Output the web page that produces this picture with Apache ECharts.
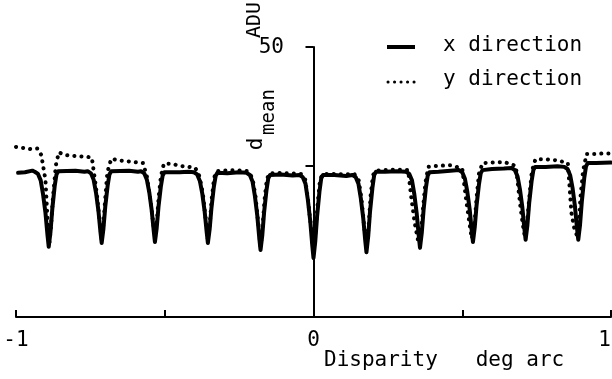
<!DOCTYPE html>
<html>
<head>
<meta charset="utf-8">
<script src="https://cdn.jsdelivr.net/npm/echarts@6/dist/echarts.min.js"></script>
<style>
  html, body { margin: 0; padding: 0; background: #fff; }
  #chart { width: 612px; height: 379px; }
</style>
</head>
<body>
<div id="chart"></div>
<script>
// Mean response (ADU) against disparity (deg arc), x and y scan directions.
const xTickValues = [-1, -0.5, 0.5, 1];
const xLabelValues = [-1, 0, 1];
const yTopLabel = '50';
const yMax = 50;
const dMean = 28.1;

// [disparity, ADU] samples, x direction
const xDirection = [
  [-0.993, 26.7], [-0.970, 26.8], [-0.945, 27.1],
  [-0.937, 26.9], [-0.926, 26.5], [-0.917, 25.3], [-0.909, 22.7], [-0.901, 19.3], [-0.894, 15.1],
  [-0.890, 13.0], [-0.884, 15.8], [-0.878, 20.0], [-0.870, 24.2], [-0.864, 26.4], [-0.858, 27.0],
  [-0.800, 27.1], [-0.770, 26.9],
  [-0.759, 27.0], [-0.748, 26.6], [-0.739, 25.4], [-0.731, 23.0], [-0.723, 19.7], [-0.716, 15.7],
  [-0.712, 13.7], [-0.706, 16.4], [-0.700, 20.4], [-0.692, 24.3], [-0.686, 26.4], [-0.680, 27.0],
  [-0.620, 27.1], [-0.590, 26.9],
  [-0.580, 27.0], [-0.569, 26.6], [-0.560, 25.4], [-0.552, 23.1], [-0.544, 19.8], [-0.537, 15.9],
  [-0.533, 13.9], [-0.527, 16.5], [-0.521, 20.4], [-0.513, 24.2], [-0.507, 26.2], [-0.501, 26.8],
  [-0.450, 26.8], [-0.420, 26.9],
  [-0.402, 26.8], [-0.391, 26.4], [-0.382, 25.2], [-0.374, 22.9], [-0.366, 19.6], [-0.359, 15.7],
  [-0.355, 13.7], [-0.349, 16.3], [-0.343, 20.2], [-0.335, 24.1], [-0.329, 26.1], [-0.323, 26.7],
  [-0.290, 26.6], [-0.250, 26.8],
  [-0.225, 26.7], [-0.214, 26.3], [-0.205, 25.1], [-0.197, 22.4], [-0.189, 18.8], [-0.182, 14.5],
  [-0.178, 12.4], [-0.172, 15.2], [-0.166, 19.4], [-0.158, 23.5], [-0.152, 25.7], [-0.146, 26.3],
  [-0.110, 26.4], [-0.070, 26.2],
  [-0.047, 26.3], [-0.036, 25.9], [-0.027, 24.7], [-0.019, 21.7], [-0.011, 17.8], [-0.004, 13.2],
  [0.000, 10.9], [0.006, 14.0], [0.012, 18.6], [0.020, 23.2], [0.026, 25.7], [0.032, 26.3],
  [0.070, 26.3], [0.110, 26.1],
  [0.131, 26.3], [0.142, 25.9], [0.151, 24.7], [0.159, 22.0], [0.167, 18.4], [0.174, 14.1],
  [0.178, 12.0], [0.184, 15.0], [0.190, 19.5], [0.198, 23.9], [0.204, 26.3], [0.210, 26.9],
  [0.240, 26.9], [0.280, 27.0],
  [0.311, 26.9], [0.322, 26.5], [0.331, 25.3], [0.339, 22.7], [0.347, 19.1], [0.354, 14.9],
  [0.358, 12.8], [0.364, 15.6], [0.370, 19.8], [0.378, 24.0], [0.384, 26.2], [0.390, 26.8],
  [0.420, 26.9], [0.460, 27.1],
  [0.489, 27.2], [0.500, 26.8], [0.509, 25.6], [0.517, 23.2], [0.525, 19.9], [0.532, 15.9],
  [0.536, 13.9], [0.542, 16.6], [0.548, 20.6], [0.556, 24.5], [0.562, 26.6], [0.568, 27.2],
  [0.600, 27.4], [0.640, 27.5],
  [0.666, 27.6], [0.677, 27.2], [0.686, 26.0], [0.694, 23.6], [0.702, 20.3], [0.709, 16.3],
  [0.713, 14.3], [0.719, 17.0], [0.725, 21.1], [0.733, 25.1], [0.739, 27.2], [0.745, 27.8],
  [0.780, 27.8], [0.820, 27.9],
  [0.843, 27.8], [0.854, 27.4], [0.863, 26.2], [0.871, 23.8], [0.879, 20.4], [0.886, 16.3],
  [0.890, 14.3], [0.896, 17.1], [0.902, 21.4], [0.910, 25.7], [0.916, 27.9], [0.922, 28.5],
  [0.950, 28.5], [1.000, 28.6]
];

// [disparity, ADU] samples, y direction
const yDirection = [
  [-1.000, 31.5], [-0.975, 31.3], [-0.950, 31.1], [-0.928, 31.2],
  [-0.915, 30.0], [-0.901, 25.4], [-0.893, 17.0], [-0.888, 13.5], [-0.882, 17.0], [-0.876, 22.0], [-0.866, 28.1], [-0.856, 30.5],
  [-0.835, 30.0], [-0.800, 29.8], [-0.765, 29.7],
  [-0.745, 29.5], [-0.729, 23.1], [-0.719, 18.0], [-0.712, 14.4], [-0.706, 17.4], [-0.700, 22.0], [-0.693, 26.8], [-0.680, 29.3],
  [-0.655, 29.0], [-0.620, 28.8], [-0.590, 28.6],
  [-0.573, 28.5], [-0.560, 26.0], [-0.545, 20.4], [-0.539, 17.5], [-0.533, 14.6], [-0.527, 17.5], [-0.520, 22.5], [-0.513, 26.0], [-0.503, 28.4],
  [-0.480, 28.4], [-0.450, 28.0], [-0.420, 27.8],
  [-0.397, 27.6], [-0.383, 26.0], [-0.372, 22.9], [-0.362, 18.0], [-0.355, 14.4], [-0.349, 17.0], [-0.342, 22.0], [-0.334, 25.8], [-0.325, 27.0],
  [-0.300, 27.1], [-0.260, 27.2], [-0.220, 27.0],
  [-0.205, 25.7], [-0.195, 22.4], [-0.185, 17.0], [-0.178, 13.0], [-0.172, 16.0], [-0.165, 21.5], [-0.157, 25.5], [-0.148, 26.6],
  [-0.120, 26.7], [-0.080, 26.6], [-0.042, 26.5],
  [-0.028, 25.5], [-0.018, 21.5], [-0.008, 16.5], [0.000, 12.0], [0.007, 16.0], [0.014, 21.0], [0.022, 25.5], [0.032, 26.5],
  [0.060, 26.5], [0.100, 26.4], [0.137, 26.5],
  [0.152, 25.3], [0.161, 22.0], [0.170, 17.0], [0.178, 12.8], [0.185, 16.5], [0.192, 22.5], [0.200, 26.3], [0.210, 27.1],
  [0.240, 27.2], [0.280, 27.3],
  [0.318, 27.2], [0.329, 22.0], [0.340, 17.5], [0.352, 14.0], [0.360, 15.0], [0.368, 20.0], [0.376, 24.8], [0.386, 27.8],
  [0.420, 28.0], [0.460, 28.1],
  [0.500, 27.5], [0.514, 21.3], [0.524, 17.5], [0.532, 14.5], [0.540, 16.5], [0.548, 22.0], [0.556, 26.5], [0.568, 28.5],
  [0.600, 28.6], [0.640, 28.7],
  [0.680, 28.0], [0.696, 20.2], [0.704, 17.0], [0.710, 15.0], [0.718, 17.5], [0.726, 22.5], [0.734, 27.0], [0.746, 29.2],
  [0.780, 29.2], [0.820, 29.0],
  [0.855, 28.5], [0.867, 19.3], [0.878, 16.0], [0.887, 15.0], [0.893, 18.0], [0.897, 22.0], [0.906, 27.0], [0.918, 30.2],
  [0.950, 30.2], [0.975, 30.3], [1.000, 30.3]
];

const FONT = '"DejaVu Sans Mono", "Liberation Mono", monospace';
const INK = '#000';

const chart = echarts.init(document.getElementById('chart'), null, { renderer: 'canvas' });

const yAxisBase = {
  type: 'value',
  min: 0,
  max: yMax,
  splitLine: { show: false },
  axisLabel: { show: false },
  axisLine: { show: true, onZero: true, onZeroAxisIndex: 0, lineStyle: { color: INK, width: 2 } }
};

chart.setOption({
  animation: false,
  backgroundColor: '#fff',
  grid: { left: 16, right: 1, top: 47, bottom: 62, containLabel: false, outerBoundsMode: 'none' },
  xAxis: {
    type: 'value',
    min: -1,
    max: 1,
    splitLine: { show: false },
    axisLine: { onZero: false, lineStyle: { color: INK, width: 2 } },
    axisTick: { inside: true, length: 7, lineStyle: { color: INK, width: 2 }, customValues: xTickValues },
    axisLabel: {
      customValues: xLabelValues,
      margin: 13,
      color: INK,
      fontFamily: FONT,
      fontSize: 21,
      alignMaxLabel: 'right',
      formatter: v => String(v)
    }
  },
  yAxis: [
    Object.assign({}, yAxisBase, {
      axisTick: { show: true, length: 8, lineStyle: { color: INK, width: 2 }, customValues: [dMean, yMax] }
    }),
    Object.assign({}, yAxisBase, {
      axisLine: { show: false, onZero: true, onZeroAxisIndex: 0 },
      axisTick: { show: true, inside: true, length: 8, lineStyle: { color: INK, width: 2 }, customValues: [dMean, yMax] }
    })
  ],
  series: [
    {
      name: 'y direction',
      type: 'line',
      data: yDirection,
      showSymbol: false,
      z: 2,
      lineStyle: { color: INK, width: 4, type: [0.1, 7], cap: 'round', join: 'round' }
    },
    {
      name: 'x direction',
      type: 'line',
      data: xDirection,
      showSymbol: false,
      z: 3,
      lineStyle: { color: INK, width: 4, cap: 'round', join: 'round' }
    }
  ],
  graphic: [
    // legend
    { type: 'line', shape: { x1: 387, y1: 47, x2: 415, y2: 47 }, style: { stroke: INK, lineWidth: 4 } },
    { type: 'line', shape: { x1: 388, y1: 82, x2: 416, y2: 82 }, style: { stroke: INK, lineWidth: 3, lineDash: [0.1, 6.4], lineCap: 'round' } },
    { type: 'text', left: 443, top: 35, style: { text: 'x direction', font: '21px ' + FONT, fill: INK } },
    { type: 'text', left: 443, top: 69, style: { text: 'y direction', font: '21px ' + FONT, fill: INK } },
    // axis titles and top value
    { type: 'text', x: 255, y: 20, rotation: Math.PI / 2,
      style: { text: 'ADU', font: '20px ' + FONT, fill: INK, align: 'center', verticalAlign: 'middle' } },
    { type: 'text', x: 284, y: 48,
      style: { text: yTopLabel, font: '21px ' + FONT, fill: INK, align: 'right', verticalAlign: 'middle' } },
    { type: 'text', x: 257, y: 144, rotation: Math.PI / 2,
      style: { text: 'd', font: '21px ' + FONT, fill: INK, align: 'center', verticalAlign: 'middle' } },
    { type: 'text', x: 269, y: 112, rotation: Math.PI / 2,
      style: { text: 'mean', font: '19px ' + FONT, fill: INK, align: 'center', verticalAlign: 'middle' } },
    { type: 'text', left: 324, top: 350, style: { text: 'Disparity   deg arc', font: '21px ' + FONT, fill: INK } }
  ]
});
</script>
</body>
</html>
